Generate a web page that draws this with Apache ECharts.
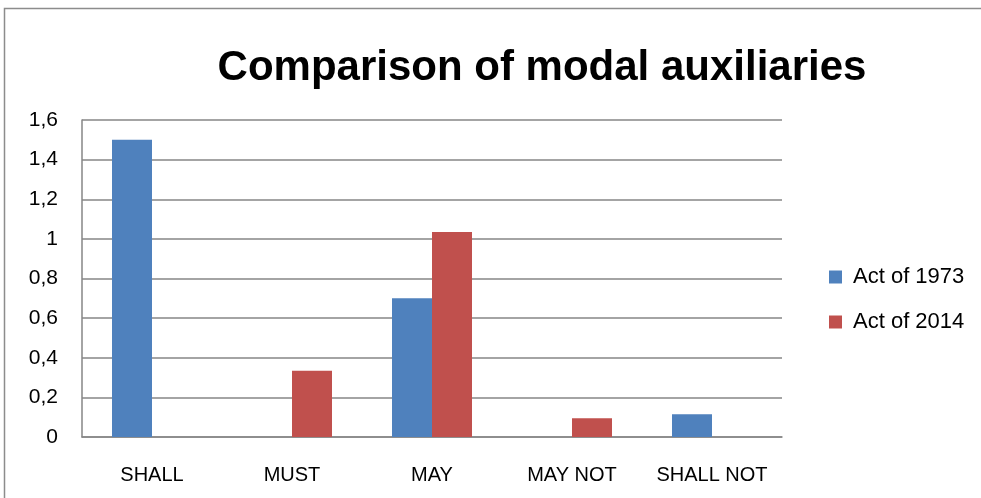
<!DOCTYPE html>
<html>
<head>
<meta charset="utf-8">
<script src="https://cdn.jsdelivr.net/npm/echarts@6/dist/echarts.min.js"></script>
<style>
  html, body { margin: 0; padding: 0; background: #fff; }
  #chart { width: 981px; height: 498px; }
</style>
</head>
<body>
<div id="chart"></div>
<script>
var categories = ['SHALL', 'MUST', 'MAY', 'MAY NOT', 'SHALL NOT']
var act1973 = [1.5, 0, 0.7, 0, 0.115]
var act2014 = [0, 0.335, 1.035, 0.095, 0]
var yTicks = { min: 0, max: 1.6, interval: 0.2 }

var font = "'Liberation Sans', Arial, sans-serif"

var chart = echarts.init(document.getElementById('chart'))
var option = {
  animation: false,
  backgroundColor: '#fff',
  title: {
    text: 'Comparison of modal auxiliaries',
    left: 537,
    textAlign: 'center',
    top: 42,
    textStyle: {
      fontFamily: font,
      fontWeight: 'bold',
      fontSize: 42,
      color: '#000'
    }
  },
  graphic: [{
    type: 'rect',
    shape: { x: 4.5, y: 8.5, width: 1000, height: 500 },
    style: { fill: 'none', stroke: '#8c8c8c', lineWidth: 1.5 },
    silent: true
  }],
  legend: {
    orient: 'vertical',
    left: 824,
    top: 261,
    itemWidth: 13,
    itemHeight: 13,
    itemGap: 23,
    icon: 'rect',
    textStyle: { fontFamily: font, fontSize: 22, color: '#000', padding: [0, 0, 0, 6] },
    data: ['Act of 1973', 'Act of 2014']
  },
  grid: { left: 82, top: 120, right: 199, bottom: 61, containLabel: false },
  xAxis: {
    type: 'category',
    data: categories,
    axisLine: { lineStyle: { color: '#868686', width: 1.5 } },
    axisTick: { show: false },
    axisLabel: { interval: 0, hideOverlap: false, fontFamily: font, fontSize: 20, color: '#000', margin: 28 }
  },
  yAxis: {
    type: 'value',
    min: yTicks.min,
    max: yTicks.max,
    interval: yTicks.interval,
    axisLine: { show: true, lineStyle: { color: '#868686', width: 1.5 } },
    axisTick: { show: false },
    splitLine: { lineStyle: { color: '#868686', width: 1.5 } },
    axisLabel: {
      fontFamily: font,
      fontSize: 21,
      color: '#000',
      margin: 24,
      formatter: function (v) {
        return String(Math.round(v * 10) / 10).replace('.', ',')
      }
    }
  },
  series: [{
    name: 'Act of 1973',
    type: 'bar',
    data: act1973,
    barWidth: 40,
    barGap: '0%',
    itemStyle: { color: '#4F81BD' }
  }, {
    name: 'Act of 2014',
    type: 'bar',
    data: act2014,
    barWidth: 40,
    itemStyle: { color: '#C0504D' }
  }]
}
chart.setOption(option)
</script>
</body>
</html>
